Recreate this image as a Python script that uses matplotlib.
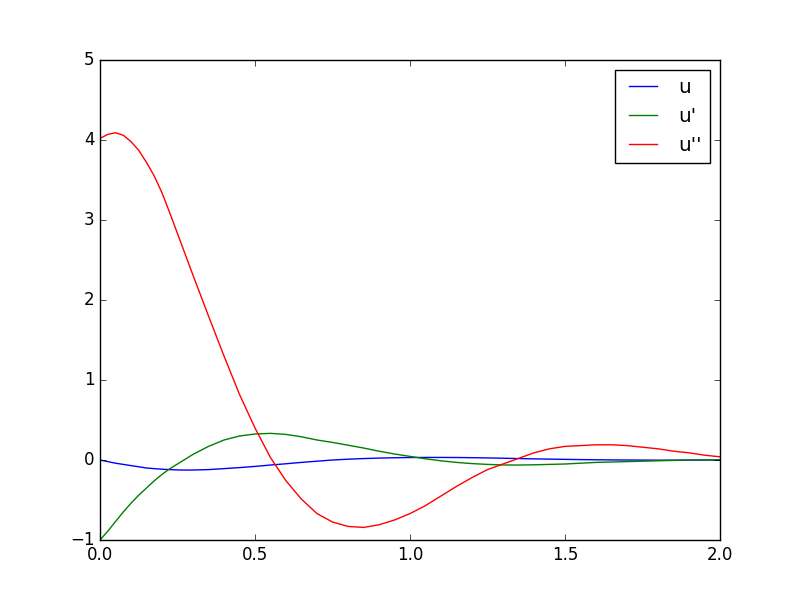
import matplotlib
matplotlib.use("Agg")
import matplotlib.pyplot as plt

plt.style.use("classic")

x = [0.000, 0.025, 0.050, 0.075, 0.100, 0.125, 0.150, 0.175, 0.200, 0.225,
     0.250, 0.275, 0.300, 0.35, 0.40, 0.45,
     0.50, 0.55, 0.60, 0.65, 0.70, 0.75, 0.80, 0.85, 0.90, 0.95,
     1.00, 1.05, 1.10, 1.15, 1.20, 1.25, 1.30, 1.35, 1.40, 1.45,
     1.50, 1.55, 1.60, 1.65, 1.70, 1.75, 1.80, 1.85, 1.90, 1.95, 2.00]

u = [0.00, -0.02, -0.04, -0.055, -0.07, -0.085, -0.10, -0.108, -0.115, -0.12,
     -0.124, -0.126, -0.125, -0.12, -0.108, -0.095,
     -0.08, -0.063, -0.047, -0.03, -0.015, 0.0, 0.01, 0.018, 0.024, 0.028,
     0.031, 0.032, 0.032, 0.031, 0.029, 0.026, 0.022, 0.018, 0.014, 0.011,
     0.008, 0.005, 0.003, 0.001, 0.0, -0.001, -0.002, -0.002, -0.001, -0.001, 0.0]

du = [-1.00, -0.89, -0.77, -0.65, -0.54, -0.44, -0.35, -0.26, -0.18, -0.11,
      -0.05, 0.01, 0.07, 0.17, 0.25, 0.30,
      0.325, 0.333, 0.32, 0.29, 0.25, 0.22, 0.185, 0.15, 0.11, 0.075,
      0.045, 0.015, -0.01, -0.03, -0.045, -0.055, -0.062, -0.063, -0.06, -0.055,
      -0.05, -0.04, -0.03, -0.025, -0.02, -0.015, -0.01, -0.005, 0.0, 0.0, 0.0]

ddu = [4.02, 4.07, 4.09, 4.06, 3.98, 3.87, 3.72, 3.55, 3.34, 3.09,
       2.83, 2.57, 2.31, 1.80, 1.30, 0.82,
       0.40, 0.03, -0.26, -0.49, -0.67, -0.775, -0.83, -0.843, -0.81, -0.75,
       -0.67, -0.57, -0.45, -0.33, -0.22, -0.12, -0.05, 0.02, 0.09, 0.14,
       0.17, 0.18, 0.19, 0.19, 0.18, 0.16, 0.14, 0.11, 0.09, 0.06, 0.04]

labels = ["u", "u'", "u''"]
colors = ["b", "g", "r"]

fig = plt.figure(figsize=(8, 6), dpi=100)
ax = fig.add_subplot(111)
for series, lab, col in zip([u, du, ddu], labels, colors):
    ax.plot(x, series, color=col, label=lab)
ax.set_xlim(0, 2)
ax.set_ylim(-1, 5)
ax.set_xticks([0.0, 0.5, 1.0, 1.5, 2.0])
ax.set_yticks([-1, 0, 1, 2, 3, 4, 5])
ax.legend(loc="upper right")
fig.savefig("out.png", dpi=100)
